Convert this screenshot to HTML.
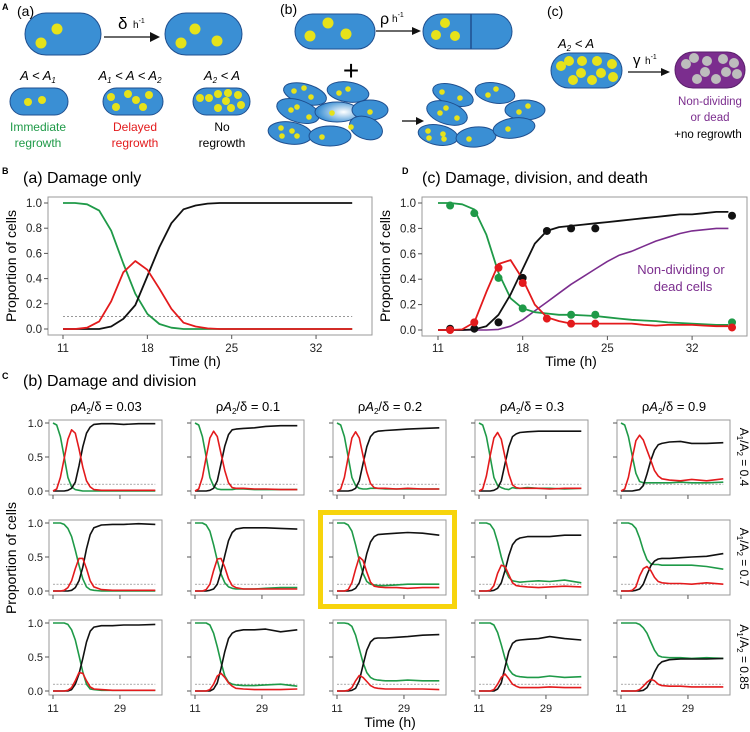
<!DOCTYPE html>
<html><head><meta charset="utf-8"><style>
html,body{margin:0;padding:0;background:#fff;}
svg{display:block;font-family:"Liberation Sans",Arial,sans-serif;}
</style></head><body>
<svg id="fig" width="750" height="732" viewBox="0 0 750 732">
<defs>
<radialGradient id="fade" cx="0.65" cy="0.5" r="0.6"><stop offset="0" stop-color="#ffffff"/><stop offset="1" stop-color="#3a8fd4"/></radialGradient>
</defs>
<g>
<text x="2" y="10" font-size="9" font-weight="bold">A</text>
<text x="17" y="16" font-size="14">(a)</text>
<rect x="25" y="13" width="76" height="42" rx="21" fill="#3a8fd4" stroke="#1f4f8f"/>
<circle cx="57" cy="29" r="5.5" fill="#e6e21a"/><circle cx="41" cy="43" r="5.5" fill="#e6e21a"/>
<line x1="104" y1="37" x2="152" y2="37" stroke="#111" stroke-width="1.3"/><polygon points="160,37 150,32 150,42" fill="#111"/>
<text x="118" y="29" font-size="17">δ</text><text x="133" y="28" font-size="10">h<tspan font-size="7" dy="-5">-1</tspan></text>
<rect x="165" y="13" width="77" height="42" rx="21" fill="#3a8fd4" stroke="#1f4f8f"/>
<circle cx="195" cy="29" r="5.5" fill="#e6e21a"/><circle cx="181" cy="43" r="5.5" fill="#e6e21a"/><circle cx="217" cy="41" r="5.5" fill="#e6e21a"/>
<text x="38" y="80" font-size="13" text-anchor="middle" font-style="italic">A &lt; A<tspan font-size="8" dy="3">1</tspan></text>
<text x="130" y="80" font-size="13" text-anchor="middle" font-style="italic">A<tspan font-size="8" dy="3">1</tspan><tspan dy="-3"> &lt; A &lt; A</tspan><tspan font-size="8" dy="3">2</tspan></text>
<text x="222" y="80" font-size="13" text-anchor="middle" font-style="italic">A<tspan font-size="8" dy="3">2</tspan><tspan dy="-3"> &lt; A</tspan></text>
<rect x="10" y="88" width="58" height="27" rx="13.5" fill="#3a8fd4" stroke="#1f4f8f"/>
<circle cx="28" cy="102" r="4" fill="#e6e21a"/><circle cx="42" cy="100" r="4" fill="#e6e21a"/>
<rect x="103" y="88" width="60" height="27" rx="13.5" fill="#3a8fd4" stroke="#1f4f8f"/>
<circle cx="111" cy="97" r="4" fill="#e6e21a"/><circle cx="128" cy="94" r="4" fill="#e6e21a"/><circle cx="136" cy="100" r="4" fill="#e6e21a"/><circle cx="149" cy="95" r="4" fill="#e6e21a"/><circle cx="116" cy="107" r="4" fill="#e6e21a"/><circle cx="143" cy="107" r="4" fill="#e6e21a"/>
<rect x="193" y="88" width="57" height="27" rx="13.5" fill="#3a8fd4" stroke="#1f4f8f"/>
<circle cx="200" cy="98" r="4" fill="#e6e21a"/><circle cx="209" cy="98" r="4" fill="#e6e21a"/><circle cx="218" cy="94" r="4" fill="#e6e21a"/><circle cx="228" cy="93" r="4" fill="#e6e21a"/><circle cx="238" cy="95" r="4" fill="#e6e21a"/><circle cx="226" cy="101" r="4" fill="#e6e21a"/><circle cx="218" cy="108" r="4" fill="#e6e21a"/><circle cx="231" cy="108" r="4" fill="#e6e21a"/><circle cx="241" cy="105" r="4" fill="#e6e21a"/>
<text x="38" y="131" font-size="12" fill="#1f9a48" text-anchor="middle">Immediate</text><text x="38" y="147" font-size="12" fill="#1f9a48" text-anchor="middle">regrowth</text>
<text x="135" y="131" font-size="12" fill="#e31a1c" text-anchor="middle">Delayed</text><text x="135" y="147" font-size="12" fill="#e31a1c" text-anchor="middle">regrowth</text>
<text x="222" y="131" font-size="12" text-anchor="middle">No</text><text x="222" y="147" font-size="12" text-anchor="middle">regrowth</text>
</g>
<g>
<text x="280" y="14" font-size="14">(b)</text>
<rect x="295" y="14" width="80" height="35" rx="17.5" fill="#3a8fd4" stroke="#1f4f8f"/>
<circle cx="310" cy="36" r="5.5" fill="#e6e21a"/><circle cx="328" cy="23" r="5.5" fill="#e6e21a"/><circle cx="346" cy="34" r="5.5" fill="#e6e21a"/>
<line x1="376" y1="31" x2="414" y2="31" stroke="#111" stroke-width="1.3"/><polygon points="421,31 412,27 412,35" fill="#111"/>
<text x="380" y="24" font-size="16">ρ</text><text x="392" y="22" font-size="10">h<tspan font-size="7" dy="-5">-1</tspan></text>
<rect x="423" y="14" width="89" height="35" rx="17.5" fill="#3a8fd4" stroke="#1f4f8f"/>
<line x1="471" y1="14" x2="471" y2="49" stroke="#1f4f8f" stroke-width="1.5"/>
<circle cx="445" cy="23" r="5" fill="#e6e21a"/><circle cx="436" cy="35" r="5" fill="#e6e21a"/><circle cx="455" cy="36" r="5" fill="#e6e21a"/>
<text x="351" y="80" font-size="28" text-anchor="middle">+</text>
<g stroke="#1f4f8f" fill="#3a8fd4">
<ellipse cx="305" cy="94" rx="22" ry="10" transform="rotate(15 305 94)"/>
<ellipse cx="348" cy="92" rx="21" ry="10" transform="rotate(8 348 92)"/>
<ellipse cx="298" cy="111" rx="22" ry="11" transform="rotate(18 298 111)"/>
<ellipse cx="337" cy="112" rx="22" ry="10" fill="url(#fade)"/>
<ellipse cx="370" cy="110" rx="18" ry="10"/>
<ellipse cx="290" cy="133" rx="22" ry="11" transform="rotate(8 290 133)"/>
<ellipse cx="330" cy="136" rx="21" ry="10"/>
<ellipse cx="366" cy="128" rx="17" ry="11" transform="rotate(20 366 128)"/>
<ellipse cx="453" cy="95" rx="21" ry="10" transform="rotate(18 453 95)"/>
<ellipse cx="495" cy="93" rx="20" ry="10" transform="rotate(10 495 93)"/>
<ellipse cx="447" cy="113" rx="21" ry="11" transform="rotate(18 447 113)"/>
<ellipse cx="525" cy="110" rx="20" ry="10"/>
<ellipse cx="438" cy="135" rx="20" ry="10" transform="rotate(10 438 135)"/>
<ellipse cx="476" cy="137" rx="20" ry="10" transform="rotate(-5 476 137)"/>
<ellipse cx="514" cy="128" rx="21" ry="10" transform="rotate(-8 514 128)"/>
</g>
<g fill="#e6e21a">
<circle cx="294" cy="91" r="2.8"/><circle cx="304" cy="88" r="2.8"/><circle cx="311" cy="97" r="2.8"/>
<circle cx="339" cy="93" r="2.8"/><circle cx="348" cy="89" r="2.8"/>
<circle cx="291" cy="110" r="2.8"/><circle cx="297" cy="107" r="2.8"/><circle cx="309" cy="117" r="2.8"/>
<circle cx="332" cy="113" r="2.8"/><circle cx="370" cy="112" r="2.8"/>
<circle cx="281" cy="128" r="2.8"/><circle cx="282" cy="136" r="2.8"/><circle cx="292" cy="131" r="2.8"/><circle cx="297" cy="136" r="2.8"/>
<circle cx="322" cy="137" r="2.8"/><circle cx="351" cy="127" r="2.8"/>
<circle cx="442" cy="92" r="2.8"/><circle cx="460" cy="98" r="2.8"/>
<circle cx="488" cy="95" r="2.8"/><circle cx="496" cy="89" r="2.8"/>
<circle cx="440" cy="113" r="2.8"/><circle cx="446" cy="108" r="2.8"/><circle cx="457" cy="118" r="2.8"/>
<circle cx="519" cy="112" r="2.8"/><circle cx="528" cy="106" r="2.8"/>
<circle cx="428" cy="131" r="2.8"/><circle cx="429" cy="138" r="2.8"/><circle cx="443" cy="134" r="2.8"/><circle cx="444" cy="139" r="2.8"/>
<circle cx="469" cy="139" r="2.8"/><circle cx="508" cy="129" r="2.8"/>
</g>
<line x1="402" y1="121" x2="417" y2="121" stroke="#111" stroke-width="1.3"/><polygon points="424,121 416,117 416,125" fill="#111"/>
</g>
<g>
<text x="547" y="16" font-size="14">(c)</text>
<text x="558" y="48" font-size="13" font-style="italic">A<tspan font-size="8" dy="3">2</tspan><tspan dy="-3"> &lt; A</tspan></text>
<rect x="551" y="53" width="71" height="35" rx="17.5" fill="#3a8fd4" stroke="#1f4f8f"/>
<g fill="#e6e21a"><circle cx="561" cy="66" r="5"/><circle cx="569" cy="61" r="5"/><circle cx="582" cy="61" r="5"/><circle cx="597" cy="61" r="5"/><circle cx="612" cy="64" r="5"/><circle cx="581" cy="73" r="5"/><circle cx="601" cy="73" r="5"/><circle cx="573" cy="80" r="5"/><circle cx="592" cy="80" r="5"/><circle cx="613" cy="77" r="5"/></g>
<line x1="628" y1="72" x2="662" y2="72" stroke="#111" stroke-width="1.3"/><polygon points="670,72 661,68 661,76" fill="#111"/>
<text x="633" y="65" font-size="15">γ</text><text x="645" y="64" font-size="10">h<tspan font-size="7" dy="-5">-1</tspan></text>
<rect x="675" y="52" width="70" height="36" rx="18" fill="#7b2d8e" stroke="#5a1f6b"/>
<g fill="#bdbdbd"><circle cx="686" cy="64" r="5"/><circle cx="694" cy="58" r="5"/><circle cx="707" cy="61" r="5"/><circle cx="723" cy="59" r="5"/><circle cx="734" cy="63" r="5"/><circle cx="705" cy="72" r="5"/><circle cx="726" cy="72" r="5"/><circle cx="697" cy="79" r="5"/><circle cx="716" cy="79" r="5"/><circle cx="737" cy="74" r="5"/></g>
<text x="710" y="105" font-size="11.5" fill="#7b2d8e" text-anchor="middle">Non-dividing</text>
<text x="710" y="121" font-size="11.5" fill="#7b2d8e" text-anchor="middle">or dead</text>
<text x="708" y="138" font-size="11.5" text-anchor="middle">+no regrowth</text>
</g>
<text x="2" y="174" font-size="9" font-weight="bold">B</text>
<text x="23" y="183" font-size="16">(a) Damage only</text>
<text x="402" y="174" font-size="9" font-weight="bold">D</text>
<text x="422" y="183" font-size="16">(c) Damage, division, and death</text>
<text x="2" y="379" font-size="9" font-weight="bold">C</text>
<text x="23" y="386" font-size="16">(b) Damage and division</text>
<g id="charts"></g>
</svg>
<script>
const bTimes = [11,12,13,14,15,16,17,18,19,20,21,22,23,24,25,26,28,30,32,35];
const bGreen = [1,1,0.99,0.94,0.78,0.52,0.28,0.12,0.04,0.01,0,0,0,0,0,0,0,0,0,0];
const bRed   = [0,0,0.01,0.06,0.22,0.45,0.54,0.47,0.32,0.16,0.05,0.02,0.005,0,0,0,0,0,0,0];
const bBlack = [0,0,0,0,0.02,0.08,0.19,0.42,0.65,0.84,0.95,0.98,0.995,1,1,1,1,1,1,1];
const bTicks = [11,18,25,32];
const yTicks = [0,0.2,0.4,0.6,0.8,1.0];
const threshold = 0.1;
const dTimes = [11,12,13,14,15,16,17,18,19,20,21,22,23,24,25,26,27,28,29,30,31,32,33,34,35];
const dGreen = [1,1,0.99,0.95,0.75,0.45,0.25,0.17,0.14,0.13,0.12,0.12,0.115,0.11,0.1,0.09,0.08,0.075,0.07,0.06,0.055,0.05,0.045,0.04,0.04];
const dRed   = [0,0,0.005,0.06,0.3,0.52,0.55,0.4,0.2,0.1,0.07,0.05,0.05,0.05,0.05,0.05,0.05,0.04,0.035,0.04,0.04,0.04,0.035,0.03,0.03];
const dBlack = [0,0,0,0.005,0.03,0.12,0.28,0.48,0.68,0.78,0.81,0.82,0.83,0.84,0.85,0.86,0.87,0.88,0.89,0.9,0.91,0.91,0.92,0.93,0.93];
const dPurple= [0,0,0,0,0,0.005,0.03,0.08,0.15,0.22,0.29,0.36,0.42,0.48,0.54,0.59,0.62,0.66,0.7,0.73,0.76,0.78,0.79,0.8,0.8];
const ptTimes = [12,14,16,18,20,22,24,35.3];
const ptGreen = [0.98,0.92,0.41,0.17,null,0.12,0.12,0.06];
const ptRed   = [0,0.06,0.49,0.37,0.09,0.05,0.05,0.02];
const ptBlack = [0.01,0.01,0.06,0.41,0.78,0.8,0.8,0.9];
const cTimes = [11,12,13,14,15,16,17,18,19,20,21,22,24,27,30,34,38.5];
const cColLabels = ["0.03","0.1","0.2","0.3","0.9"];
const cRowLabels = ["0.4","0.7","0.85"];
const cXTicks = [11,29];
const cYTicks = [0,0.5,1.0];
const cGreen = [
 [[1,0.97,0.8,0.5,0.2,0.06,0.02,0.01,0,0,0,0,0,0,0,0,0],
  [1,0.97,0.8,0.5,0.2,0.07,0.03,0.02,0.02,0.02,0.02,0.03,0.03,0.02,0.02,0.02,0.02],
  [1,0.97,0.8,0.5,0.2,0.08,0.04,0.03,0.03,0.04,0.04,0.04,0.03,0.03,0.03,0.03,0.03],
  [1,0.97,0.8,0.5,0.2,0.08,0.05,0.03,0.02,0.05,0.04,0.04,0.05,0.04,0.04,0.03,0.04],
  [1,0.97,0.8,0.52,0.26,0.14,0.12,0.12,0.12,0.12,0.12,0.12,0.12,0.13,0.12,0.12,0.13]],
 [[1,1,1,0.98,0.92,0.8,0.6,0.38,0.18,0.06,0.02,0.01,0,0,0,0,0],
  [1,1,1,0.97,0.88,0.68,0.45,0.25,0.12,0.06,0.04,0.03,0.03,0.03,0.04,0.05,0.05],
  [1,1,1,0.97,0.88,0.68,0.45,0.26,0.14,0.1,0.09,0.08,0.08,0.09,0.1,0.1,0.1],
  [1,1,1,0.98,0.9,0.72,0.5,0.32,0.2,0.15,0.14,0.13,0.14,0.15,0.14,0.16,0.12],
  [1,1,1,0.98,0.92,0.78,0.6,0.46,0.4,0.39,0.39,0.38,0.38,0.38,0.38,0.36,0.32]],
 [[1,1,1,1,0.98,0.9,0.75,0.52,0.28,0.1,0.03,0.02,0.01,0.01,0.01,0.01,0.01],
  [1,1,1,1,0.97,0.85,0.65,0.42,0.22,0.13,0.1,0.09,0.08,0.08,0.09,0.1,0.07],
  [1,1,1,0.99,0.95,0.82,0.62,0.42,0.27,0.2,0.17,0.16,0.15,0.15,0.16,0.15,0.15],
  [1,1,1,1,0.97,0.86,0.68,0.48,0.32,0.25,0.22,0.21,0.2,0.2,0.22,0.2,0.21],
  [1,1,1,1,1,0.98,0.93,0.85,0.72,0.6,0.52,0.5,0.49,0.49,0.48,0.49,0.48]]];
const cRed = [
 [[0,0.03,0.2,0.48,0.76,0.9,0.85,0.62,0.35,0.15,0.06,0.02,0.01,0.01,0.01,0.01,0.01],
  [0,0.03,0.2,0.5,0.78,0.88,0.8,0.55,0.3,0.12,0.05,0.04,0.04,0.03,0.03,0.02,0.02],
  [0,0.03,0.2,0.5,0.78,0.87,0.78,0.52,0.28,0.11,0.05,0.04,0.04,0.03,0.04,0.03,0.03],
  [0,0.03,0.22,0.52,0.78,0.86,0.76,0.5,0.25,0.09,0.05,0.04,0.04,0.04,0.03,0.04,0.04],
  [0,0.03,0.2,0.48,0.74,0.82,0.75,0.6,0.45,0.3,0.22,0.18,0.16,0.15,0.17,0.15,0.18]],
 [[0,0,0,0.01,0.05,0.15,0.33,0.48,0.48,0.33,0.15,0.06,0.02,0.01,0.01,0.01,0.01],
  [0,0,0,0.02,0.1,0.3,0.47,0.48,0.35,0.18,0.08,0.05,0.03,0.03,0.03,0.03,0.03],
  [0,0,0,0.02,0.12,0.32,0.5,0.45,0.28,0.13,0.07,0.06,0.05,0.05,0.04,0.05,0.05],
  [0,0,0,0.01,0.08,0.26,0.38,0.36,0.24,0.12,0.08,0.07,0.06,0.05,0.06,0.07,0.06],
  [0,0,0,0.01,0.06,0.22,0.33,0.36,0.3,0.2,0.14,0.12,0.11,0.11,0.1,0.12,0.1]],
 [[0,0,0,0,0.01,0.05,0.15,0.27,0.26,0.15,0.06,0.03,0.02,0.01,0.01,0.01,0.01],
  [0,0,0,0,0.02,0.1,0.22,0.26,0.2,0.12,0.07,0.04,0.03,0.02,0.02,0.02,0.03],
  [0,0,0,0.01,0.05,0.15,0.23,0.2,0.14,0.08,0.05,0.04,0.03,0.03,0.03,0.03,0.02],
  [0,0,0,0,0.02,0.1,0.2,0.25,0.18,0.1,0.07,0.05,0.05,0.05,0.06,0.05,0.05],
  [0,0,0,0,0,0.02,0.07,0.13,0.17,0.15,0.1,0.08,0.07,0.07,0.06,0.06,0.06]]];
const cBlack = [
 [[0,0,0,0,0.01,0.04,0.13,0.37,0.65,0.85,0.94,0.98,0.99,0.99,0.98,0.99,0.99],
  [0,0,0,0,0.01,0.04,0.15,0.4,0.66,0.83,0.9,0.91,0.92,0.93,0.95,0.96,0.96],
  [0,0,0,0,0.01,0.04,0.15,0.4,0.65,0.8,0.86,0.88,0.89,0.9,0.91,0.92,0.93],
  [0,0,0,0,0.01,0.04,0.15,0.4,0.65,0.8,0.84,0.86,0.87,0.88,0.88,0.88,0.88],
  [0,0,0,0,0.01,0.02,0.08,0.25,0.45,0.6,0.68,0.7,0.72,0.73,0.7,0.7,0.71]],
 [[0,0,0,0,0,0.01,0.05,0.15,0.35,0.62,0.83,0.93,0.97,0.98,0.98,0.99,0.98],
  [0,0,0,0,0.01,0.03,0.1,0.28,0.52,0.74,0.86,0.91,0.93,0.93,0.93,0.92,0.91],
  [0,0,0,0,0.01,0.04,0.12,0.3,0.55,0.72,0.8,0.83,0.84,0.85,0.86,0.85,0.82],
  [0,0,0,0,0.01,0.04,0.12,0.3,0.52,0.68,0.75,0.78,0.8,0.8,0.8,0.82,0.82],
  [0,0,0,0,0.01,0.03,0.1,0.24,0.37,0.44,0.47,0.48,0.48,0.49,0.5,0.51,0.55]],
 [[0,0,0,0,0,0.02,0.1,0.25,0.48,0.72,0.88,0.94,0.96,0.96,0.97,0.97,0.98],
  [0,0,0,0,0,0.03,0.12,0.33,0.58,0.77,0.85,0.88,0.9,0.9,0.91,0.87,0.9],
  [0,0,0,0,0.01,0.04,0.15,0.38,0.6,0.72,0.77,0.78,0.78,0.79,0.8,0.82,0.83],
  [0,0,0,0,0,0.03,0.12,0.35,0.58,0.7,0.74,0.75,0.76,0.77,0.8,0.77,0.75],
  [0,0,0,0,0,0,0.01,0.05,0.15,0.28,0.38,0.43,0.46,0.47,0.47,0.47,0.48]]];

const NS = 'http://www.w3.org/2000/svg';
const root = document.getElementById('charts');
const GREEN = '#1f9a48', RED = '#e31a1c', BLACK = '#111', PURPLE = '#7b2d8e';
function el(tag, attrs, parent) {
  const e = document.createElementNS(NS, tag);
  for (const k in attrs) e.setAttribute(k, attrs[k]);
  (parent || root).appendChild(e);
  return e;
}
function linePath(times, vals, xs, ys) {
  let d = '';
  times.forEach((t, i) => { if (vals[i] === null) return; d += (d ? 'L' : 'M') + xs(t).toFixed(1) + ',' + ys(vals[i]).toFixed(1); });
  return d;
}
function series(g, times, vals, xs, ys, color, w, name) {
  const p = el('path', {d: linePath(times, vals, xs, ys), fill: 'none', stroke: color, 'stroke-width': w, 'stroke-linejoin': 'round'}, g);
  
  
  return p;
}

(function () {
  const g = el('g', {});
  
  
  const xs = t => 63 + (t - 11) * 12.05, ys = v => 329 - v * 126;
  const box = el('rect', {x: 48, y: 197, width: 324, height: 138, fill: 'none', stroke: '#999', 'stroke-width': 1}, g);
  
  
  yTicks.forEach(v => {
    el('line', {x1: 44, x2: 48, y1: ys(v), y2: ys(v), stroke: '#555'}, g);
    const t = el('text', {x: 42, y: ys(v) + 4, 'font-size': 11.5, 'text-anchor': 'end', fill: '#222'}, g);
    t.textContent = v.toFixed(1);
    
    
  });
  bTicks.forEach(v => {
    el('line', {x1: xs(v), x2: xs(v), y1: 335, y2: 339, stroke: '#555'}, g);
    const t = el('text', {x: xs(v), y: 352, 'font-size': 11.5, 'text-anchor': 'middle', fill: '#222'}, g);
    t.textContent = v;
    
    
  });
  const xt = el('text', {x: 195, y: 366, 'font-size': 14, 'text-anchor': 'middle'}, g);
  xt.textContent = 'Time (h)';
  
  
  const yt = el('text', {x: 0, y: 0, 'font-size': 14, 'text-anchor': 'middle', transform: 'translate(16,266) rotate(-90)'}, g);
  yt.textContent = 'Proportion of cells';
  
  
  const th = el('line', {x1: xs(11), x2: xs(35), y1: ys(threshold), y2: ys(threshold), stroke: '#777', 'stroke-width': 0.8, 'stroke-dasharray': '2,2'}, g);
  
  
  series(g, bTimes, bGreen, xs, ys, GREEN, 1.8, 'immediate-regrowth-line');
  series(g, bTimes, bBlack, xs, ys, BLACK, 1.8, 'no-regrowth-line');
  series(g, bTimes, bRed, xs, ys, RED, 1.8, 'delayed-regrowth-line');
})();

(function () {
  const g = el('g', {});
  
  
  const xs = t => 438 + (t - 11) * 12.1, ys = v => 330 - v * 127;
  const box = el('rect', {x: 422, y: 197, width: 325, height: 139, fill: 'none', stroke: '#999', 'stroke-width': 1}, g);
  
  
  yTicks.forEach(v => {
    el('line', {x1: 418, x2: 422, y1: ys(v), y2: ys(v), stroke: '#555'}, g);
    const t = el('text', {x: 416, y: ys(v) + 4, 'font-size': 11.5, 'text-anchor': 'end', fill: '#222'}, g);
    t.textContent = v.toFixed(1);
    
    
  });
  bTicks.forEach(v => {
    el('line', {x1: xs(v), x2: xs(v), y1: 336, y2: 340, stroke: '#555'}, g);
    const t = el('text', {x: xs(v), y: 352, 'font-size': 11.5, 'text-anchor': 'middle', fill: '#222'}, g);
    t.textContent = v;
    
    
  });
  const xt = el('text', {x: 571, y: 366, 'font-size': 14, 'text-anchor': 'middle'}, g);
  xt.textContent = 'Time (h)';
  
  
  const yt = el('text', {x: 0, y: 0, 'font-size': 14, 'text-anchor': 'middle', transform: 'translate(390,266) rotate(-90)'}, g);
  yt.textContent = 'Proportion of cells';
  
  
  series(g, dTimes, dPurple, xs, ys, PURPLE, 1.6, 'non-dividing-line');
  series(g, dTimes, dGreen, xs, ys, GREEN, 1.8, 'immediate-regrowth-line');
  series(g, dTimes, dBlack, xs, ys, BLACK, 1.8, 'no-regrowth-line');
  series(g, dTimes, dRed, xs, ys, RED, 1.8, 'delayed-regrowth-line');
  [[ptGreen, GREEN, 'green'], [ptBlack, BLACK, 'black'], [ptRed, RED, 'red']].forEach(s => {
    ptTimes.forEach((t, i) => {
      if (s[0][i] === null) return;
      const c = el('circle', {cx: xs(t), cy: ys(s[0][i]), r: 4, fill: s[1]}, g);
      
      
    });
  });
  const l1 = el('text', {x: 681, y: 274, 'font-size': 13, fill: PURPLE, 'text-anchor': 'middle'}, g);
  l1.textContent = 'Non-dividing or';
  
  
  const l2 = el('text', {x: 683, y: 291, 'font-size': 13, fill: PURPLE, 'text-anchor': 'middle'}, g);
  l2.textContent = 'dead cells';
  
  
})();

(function () {
  const rowTops = [420, 520, 620];
  const hl = el('rect', {x: 320.5, y: 512.5, width: 134, height: 94, fill: 'none', stroke: '#f7d40c', 'stroke-width': 5});
  
  
  for (let c = 0; c < 5; c++) {
    const left = 49 + 142 * c;
    const ct = el('text', {x: left + 57, y: 411, 'font-size': 13, 'text-anchor': 'middle'});
    ct.innerHTML = 'ρ<tspan font-style="italic">A</tspan><tspan font-size="8" dy="3">2</tspan><tspan dy="-3">/δ = ' + cColLabels[c] + '</tspan>';
    
    
    for (let r = 0; r < 3; r++) {
      const top = rowTops[r];
      const g = el('g', {});
      
      
      const xs = t => left + 4 + (t - 11) * 3.72, ys = v => top + 3 + (1 - v) * 68;
      const box = el('rect', {x: left, y: top, width: 113, height: 75, fill: 'none', stroke: '#999', 'stroke-width': 1}, g);
      
      
      cYTicks.forEach(v => {
        el('line', {x1: left - 4, x2: left, y1: ys(v), y2: ys(v), stroke: '#555'}, g);
        if (c === 0) {
          const t = el('text', {x: left - 6, y: ys(v) + 4, 'font-size': 11, 'text-anchor': 'end', fill: '#222'}, g);
          t.textContent = v.toFixed(1);
          
          
        }
      });
      cXTicks.forEach(v => {
        el('line', {x1: xs(v), x2: xs(v), y1: top + 75, y2: top + 79, stroke: '#555'}, g);
        if (r === 2) {
          const t = el('text', {x: xs(v), y: 712, 'font-size': 11, 'text-anchor': 'middle', fill: '#222'}, g);
          t.textContent = v;
          
          
        }
      });
      const th = el('line', {x1: xs(11), x2: xs(38.5), y1: ys(threshold), y2: ys(threshold), stroke: '#777', 'stroke-width': 0.7, 'stroke-dasharray': '2,1.5'}, g);
      
      
      series(g, cTimes, cGreen[r][c], xs, ys, GREEN, 1.6, 'immediate-regrowth-line');
      series(g, cTimes, cBlack[r][c], xs, ys, BLACK, 1.6, 'no-regrowth-line');
      series(g, cTimes, cRed[r][c], xs, ys, RED, 1.6, 'delayed-regrowth-line');
    }
  }
  for (let r = 0; r < 3; r++) {
    const cy = rowTops[r] + 37;
    const t = el('text', {x: 0, y: 0, 'font-size': 12, 'text-anchor': 'middle', transform: 'translate(740,' + cy + ') rotate(90)'});
    t.innerHTML = 'A<tspan font-size="8" dy="3">1</tspan><tspan dy="-3">/A</tspan><tspan font-size="8" dy="3">2</tspan><tspan dy="-3"> = ' + cRowLabels[r] + '</tspan>';
    
    
  }
  const yt = el('text', {x: 0, y: 0, 'font-size': 14, 'text-anchor': 'middle', transform: 'translate(16,558) rotate(-90)'});
  yt.textContent = 'Proportion of cells';
  
  
  const xt = el('text', {x: 390, y: 727, 'font-size': 14, 'text-anchor': 'middle'});
  xt.textContent = 'Time (h)';
  
  
})();
</script>
</body></html>
